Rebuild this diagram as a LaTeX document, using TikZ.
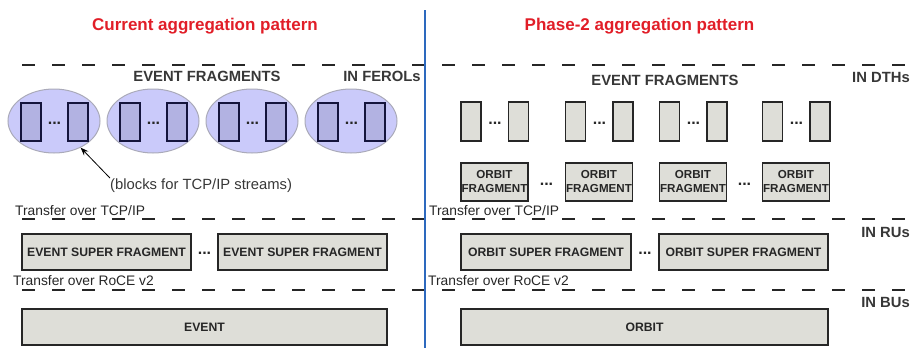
\documentclass[tikz,border=0pt]{standalone}
\usepackage{fontspec}
\setmainfont{Liberation Sans}
\usetikzlibrary{shapes.geometric,arrows.meta}
\definecolor{titlered}{RGB}{225,30,40}
\definecolor{divblue}{RGB}{45,105,190}
\definecolor{boxgray}{RGB}{222,222,216}
\definecolor{ferolfill}{RGB}{202,202,250}
\definecolor{ferolline}{RGB}{170,170,185}
\definecolor{blockfill}{RGB}{178,178,226}
\definecolor{blockline}{RGB}{20,20,60}
\definecolor{labelgray}{RGB}{55,55,55}
\def\drawFerol#1{
\node[ferol] (#1) at (0,0) {};
\node[ferblock] (#1a) at (-23,1) {};
\node[ferblock] (#1b) at (24,1) {};
\node[dots] (#1d) at (0.5,2) {...};
}
\def\drawDTH#1{
\node[dthblock] (#1a) at (-23.5,0) {};
\node[dthblock] (#1b) at (24,0) {};
\node[dots] (#1d) at (0.5,1.5) {...};
}

\begin{document}
\begin{tikzpicture}[x=1pt, y=-1pt,
  ferol/.style={ellipse, draw=ferolline, fill=ferolfill, line width=1pt, minimum width=92pt, minimum height=64pt, inner sep=0pt},
  ferblock/.style={draw=blockline, fill=blockfill, line width=1.3pt, minimum width=20pt, minimum height=38pt, inner sep=0pt},
  dthblock/.style={draw=black!85, fill=boxgray, line width=1.3pt, minimum width=20pt, minimum height=39pt, inner sep=0pt},
  orbitfrag/.style={draw=black!85, fill=boxgray, line width=1.3pt, minimum width=67pt, minimum height=38pt, inner sep=0pt, align=center, text=black!85, font=\fontsize{11.6}{14}\selectfont\bfseries},
  superfrag/.style={draw=black!85, fill=boxgray, line width=1.3pt, minimum width=169pt, minimum height=36pt, inner sep=0pt, text=black!85, font=\fontsize{12.2}{14}\selectfont\bfseries},
  dots/.style={inner sep=0pt, text=black!85, font=\fontsize{16}{18}\selectfont\bfseries},
  title/.style={text=titlered, font=\fontsize{17}{20}\selectfont\bfseries, anchor=base, inner sep=0pt},
  level/.style={text=labelgray, font=\fontsize{14.8}{17}\selectfont\bfseries, anchor=base, inner sep=0pt},
  transfer/.style={text=black!85, font=\fontsize{13.8}{16}\selectfont, anchor=base west, inner sep=0pt},
  divider/.style={draw=black!85, line width=1.8pt, dash pattern=on 13pt off 17pt}
]
\useasboundingbox (0,0) rectangle (912,348);

% dashed level lines and the split
\coordinate (d1s) at (22,65);
\coordinate (d1e) at (912,65);
\coordinate (d2s) at (22,219);
\coordinate (d2e) at (912,219);
\coordinate (d3s) at (22,290);
\coordinate (d3e) at (912,290);
\coordinate (vtop) at (425,10);
\coordinate (vbot) at (425,348);
\draw[divider] (d1s) -- (d1e);
\draw[divider] (d2s) -- (d2e);
\draw[divider] (d3s) -- (d3e);
\draw[divblue, line width=2pt] (vtop) -- (vbot);

\node[title] (tcur) at (205,30) {Current aggregation pattern};
\node[title] (tph2) at (639.5,30) {Phase-2 aggregation pattern};

\node[level] (lfrag) at (207,81) {EVENT FRAGMENTS};
\node[level] (lferol) at (382,81) {IN FEROLs};
\node[level] (rfrag) at (665,85) {EVENT FRAGMENTS};
\node[level] (ldth) at (881,82) {IN DTHs};
\node[level] (lru) at (885.5,237) {IN RUs};
\node[level] (lbu) at (885.5,307) {IN BUs};

% FEROL streams
\begin{scope}[shift={(54,121)}]
	\drawFerol{f1}
\end{scope}
\begin{scope}[shift={(153,121)}]
	\drawFerol{f2}
\end{scope}
\begin{scope}[shift={(252,121)}]
	\drawFerol{f3}
\end{scope}
\begin{scope}[shift={(351,121)}]
	\drawFerol{f4}
\end{scope}

\node[transfer, text=labelgray, font=\fontsize{14.8}{17}\selectfont] (blocks) at (110,189) {(blocks for TCP/IP streams)};
\draw[-{Stealth[length=8pt,width=6pt]}, line width=0.8pt] (blocks.north west) -- (f1.-45);

% DTH fragments
\begin{scope}[shift={(494.5,121.5)}]
	\drawDTH{g1}
\end{scope}
\begin{scope}[shift={(599,121.5)}]
	\drawDTH{g2}
\end{scope}
\begin{scope}[shift={(693,121.5)}]
	\drawDTH{g3}
\end{scope}
\begin{scope}[shift={(796,121.5)}]
	\drawDTH{g4}
\end{scope}

\node[orbitfrag] (of1) at (494.5,182) {ORBIT\\FRAGMENT};
\node[orbitfrag] (of2) at (599,182) {ORBIT\\FRAGMENT};
\node[orbitfrag] (of3) at (693,182) {ORBIT\\FRAGMENT};
\node[orbitfrag] (of4) at (796,182) {ORBIT\\FRAGMENT};
\node[dots] (od1) at (546.5,184) {...};
\node[dots] (od2) at (744.5,184) {...};

\node[transfer] (tcp1) at (15,215) {Transfer over TCP/IP};
\node[transfer] (tcp2) at (429,215) {Transfer over TCP/IP};

% RU level
\node[superfrag] (esf1) at (106.5,252) {EVENT SUPER FRAGMENT};
\node[superfrag] (esf2) at (302.5,252) {EVENT SUPER FRAGMENT};
\node[dots] (sd1) at (204.5,253) {...};
\node[superfrag, minimum width=170pt] (osf1) at (546,252) {ORBIT SUPER FRAGMENT};
\node[superfrag] (osf2) at (743.5,252) {ORBIT SUPER FRAGMENT};
\node[dots] (sd2) at (645,253) {...};

\node[transfer] (roce1) at (13,285) {Transfer over RoCE v2};
\node[transfer] (roce2) at (428,285) {Transfer over RoCE v2};

% BU level
\node[superfrag, minimum width=365pt] (event) at (204.5,327) {EVENT};
\node[superfrag, minimum width=367pt] (orbit) at (644.5,327) {ORBIT};
\end{tikzpicture}
\end{document}
